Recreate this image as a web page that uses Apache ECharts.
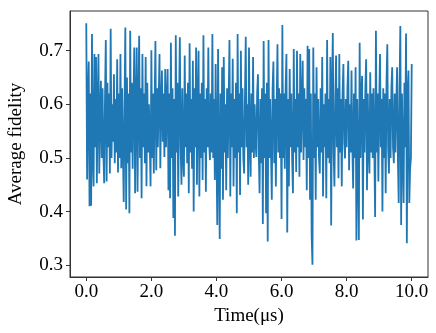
<!DOCTYPE html>
<html>
<head>
<meta charset="utf-8">
<script src="https://cdn.jsdelivr.net/npm/echarts@6/dist/echarts.min.js"></script>
<style>
  html, body { margin: 0; padding: 0; background: #fff; }
  #chart { width: 436px; height: 333px; }
</style>
</head>
<body>
<div id="chart"></div>
<script>
// sample spacing in microseconds
var timeStep = 0.025;

// average fidelity readings, 20 samples per 0.5 us
var fidelity = [
  .751, .46, .61, .68, .41, .62, .411, .731, .50, .447, .694, .52, .688, .453, .60, .694, .471, .58, .644, .50,
  .63, .51, .453, .61, .72, .456, .64, .52, .62, .471, .741, .50, .60, .53, .656, .49, .61, .51, .684, .473,
  .62, .50, .694, .481, .63, .52, .418, .60, .743, .404, .65, .49, .62, .397, .737, .51, .64, .48, .61, .706,
  .434, .60, .706, .437, .59, .728, .50, .63, .425, .694, .52, .62, .49, .688, .447, .64, .51, .60, .53, .447,
  .701, .50, .62, .471, .60, .718, .477, .63, .52, .61, .694, .481, .60, .663, .53, .62, .502, .666, .52, .61,
  .666, .44, .62, .425, .715, .50, .63, .388, .61, .355, .729, .51, .64, .428, .60, .725, .52, .45, .63, .50,
  .465, .691, .52, .62, .49, .64, .434, .714, .51, .61, .48, .681, .40, .63, .52, .706, .45, .60, .70, .428,
  .62, .50, .64, .459, .729, .51, .61, .437, .63, .52, .706, .53, .496, .62, .51, .731, .50, .61, .459, .675,
  .52, .375, .703, .50, .349, .62, .48, .669, .422, .688, .51, .60, .44, .63, .50, .61, .72, .428, .62, .52,
  .685, .447, .61, .50, .64, .397, .731, .51, .62, .431, .70, .52, .63, .50, .471, .61, .726, .52, .60, .45,
  .706, .53, .465, .62, .51, .688, .50, .60, .53, .502, .62, .656, .51, .434, .61, .49, .63, .377, .718, .50,
  .62, .397, .64, .344, .72, .50, .61, .52, .422, .63, .68, .49, .61, .447, .60, .712, .51, .63, .50, .62,
  .386, .748, .50, .62, .48, .63, .694, .361, .61, .447, .666, .52, .62, .50, .434, .703, .51, .61, .474, .70,
  .52, .62, .465, .694, .51, .60, .681, .496, .63, .52, .61, .44, .709, .50, .703, .422, .62, .354, .301, .706,
  .50, .62, .422, .669, .52, .61, .50, .471, .63, .51, .688, .428, .60, .52, .62, .425, .72, .50, .61, .49,
  .688, .374, .62, .733, .51, .447, .60, .691, .52, .63, .462, .694, .51, .61, .447, .62, .675, .53, .499, .61,
  .52, .63, .681, .477, .60, .51, .663, .52, .443, .62, .50, .669, .346, .61, .49, .347, .715, .50, .62, .653,
  .385, .61, .51, .63, .684, .44, .62, .52, .471, .66, .51, .62, .50, .63, .52, .39, .737, .51, .62, .456,
  .60, .694, .52, .61, .40, .63, .50, .62, .434, .64, .712, .52, .471, .61, .50, .63, .669, .52, .49, .62,
  .51, .60, .669, .50, .416, .63, .746, .375, .62, .51, .416, .64, .52, .732, .341, .62, .663, .416, .48, .50,
  .675
];

var xTicks = [0, 2, 4, 6, 8, 10];
var yTicks = [0.3, 0.4, 0.5, 0.6, 0.7];

var points = fidelity.map(function (v, i) {
  return [+(i * timeStep).toFixed(3), v];
});

var font = "'Times New Roman', 'Liberation Serif', serif";
var myChart = echarts.init(document.getElementById('chart'));
var option = {
  animation: false,
  grid: {
    left: 70,
    top: 11,
    width: 358,
    height: 266,
    outerBoundsMode: 'none',
    show: true,
    borderColor: '#333',
    borderWidth: 1
  },
  xAxis: {
    type: 'value',
    min: -0.5,
    max: 10.5,
    name: 'Time(\u03bcs)',
    nameLocation: 'middle',
    nameGap: 28,
    nameTextStyle: { fontFamily: font, fontSize: 19, color: '#000' },
    splitLine: { show: false },
    axisLine: { show: true, onZero: false, lineStyle: { color: '#333', width: 1 } },
    axisTick: { show: true, length: 4, customValues: xTicks, lineStyle: { color: '#333' } },
    axisLabel: {
      customValues: xTicks,
      margin: 6,
      fontFamily: font,
      fontSize: 19,
      color: '#000',
      formatter: function (v) { return v.toFixed(1); }
    }
  },
  yAxis: {
    type: 'value',
    min: 0.278,
    max: 0.774,
    name: 'Average fidelity',
    nameLocation: 'middle',
    nameGap: 44,
    nameTextStyle: { fontFamily: font, fontSize: 19, color: '#000' },
    splitLine: { show: false },
    axisLine: { show: true, onZero: false, lineStyle: { color: '#333', width: 1 } },
    axisTick: { show: true, length: 4, customValues: yTicks, lineStyle: { color: '#333' } },
    axisLabel: {
      customValues: yTicks,
      margin: 7,
      fontFamily: font,
      fontSize: 19,
      color: '#000',
      formatter: function (v) { return v.toFixed(1); }
    }
  },
  series: [
    {
      type: 'line',
      data: points,
      showSymbol: false,
      lineStyle: { color: '#1f77b4', width: 1.8 },
      emphasis: { disabled: true }
    }
  ]
};
myChart.setOption(option);
</script>
</body>
</html>
